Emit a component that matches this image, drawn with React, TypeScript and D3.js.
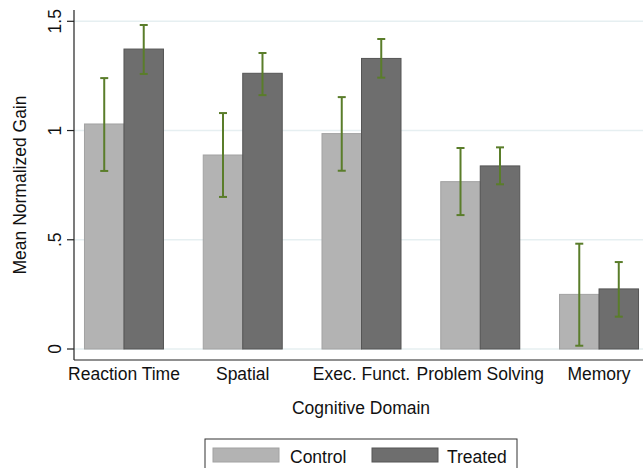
import React from "react";
import * as d3 from "d3";

const domains = ["Reaction Time", "Spatial", "Exec. Funct.", "Problem Solving", "Memory"];
const groups = ["Control", "Treated"];
const controlMean = [1.03, 0.888, 0.986, 0.766, 0.25];
const controlLow = [0.815, 0.696, 0.816, 0.613, 0.015];
const controlHigh = [1.24, 1.08, 1.153, 0.92, 0.482];
const treatedMean = [1.373, 1.262, 1.33, 0.838, 0.275];
const treatedLow = [1.259, 1.162, 1.242, 0.754, 0.148];
const treatedHigh = [1.483, 1.355, 1.419, 0.923, 0.398];
const yTicks = [0, 0.5, 1, 1.5];
const yTickLabels = ["0", ".5", "1", "1.5"];

const W = 643;
const H = 468;
const FONT = "'Liberation Sans', Arial, sans-serif";
const FS = 17.5;
const colors: Record<string, string> = { Control: "#b3b3b3", Treated: "#6e6e6e" };
const strokes: Record<string, string> = { Control: "#a2a2a2", Treated: "#555555" };
const errColor = "#5a7d2a";

export default function App() {
  const left = 74;
  const right = 643;
  const top = 10;
  const bottom = 360;

  const y = d3.scaleLinear().domain([0, 1.5]).range([349, 21.3]);
  const x = d3.scaleBand<string>().domain(domains).range([64.6, 658.4]).padding(0);
  const pairW = 79;
  const sub = d3
    .scaleBand<string>()
    .domain(groups)
    .range([x.bandwidth() / 2 - pairW / 2, x.bandwidth() / 2 + pairW / 2])
    .padding(0);

  const rows = domains.map((d, i) => ({
    domain: d,
    values: [
      { g: "Control", m: controlMean[i], lo: controlLow[i], hi: controlHigh[i] },
      { g: "Treated", m: treatedMean[i], lo: treatedLow[i], hi: treatedHigh[i] },
    ],
  }));

  const cap = 4;

  return (
    <svg
      width={W}
      height={H}
      style={{ position: "absolute", left: 0, top: 0, background: "#fff" }}
      fontFamily={FONT}
    >
      {/* grid */}
      {yTicks.map((t) => (
        <line key={"g" + t} x1={left} x2={right} y1={y(t)} y2={y(t)} stroke="#e6eff1" strokeWidth={1.5} />
      ))}

      {/* bars */}
      {rows.map((r) => (
        <g key={r.domain} transform={`translate(${x(r.domain)},0)`}>
          {r.values.map((v) => (
            <rect
              key={v.g}
              x={sub(v.g)!}
              y={y(v.m)}
              width={sub.bandwidth()}
              height={y(0) - y(v.m)}
              fill={colors[v.g]}
              stroke={strokes[v.g]}
              strokeWidth={1}
            />
          ))}
        </g>
      ))}

      {/* error bars */}
      {rows.map((r) => (
        <g key={"e" + r.domain} transform={`translate(${x(r.domain)},0)`}>
          {r.values.map((v) => {
            const cx = sub(v.g)! + sub.bandwidth() / 2;
            return (
              <g key={v.g} stroke={errColor} strokeWidth={2}>
                <line x1={cx} x2={cx} y1={y(v.hi)} y2={y(v.lo)} />
                <line x1={cx - cap} x2={cx + cap} y1={y(v.hi)} y2={y(v.hi)} />
                <line x1={cx - cap} x2={cx + cap} y1={y(v.lo)} y2={y(v.lo)} />
              </g>
            );
          })}
        </g>
      ))}

      {/* axes */}
      <line x1={left} x2={left} y1={top} y2={bottom} stroke="#222" strokeWidth={1.2} />
      <line x1={left} x2={right} y1={bottom} y2={bottom} stroke="#222" strokeWidth={1.2} />
      {yTicks.map((t, i) => (
        <g key={"t" + t}>
          <line x1={67} x2={left} y1={y(t)} y2={y(t)} stroke="#222" strokeWidth={1.2} />
          <text
            transform={`translate(61,${y(t)}) rotate(-90)`}
            textAnchor="middle"
            fontSize={FS}
            fill="#111"
          >
            {yTickLabels[i]}
          </text>
        </g>
      ))}
      {domains.map((d) => (
        <text
          key={"x" + d}
          x={x(d)! + x.bandwidth() / 2}
          y={380}
          textAnchor="middle"
          fontSize={FS}
          fill="#111"
        >
          {d}
        </text>
      ))}

      <text
        transform={`translate(25.5,${(top + bottom) / 2}) rotate(-90)`}
        textAnchor="middle"
        fontSize={FS}
        fill="#111"
      >
        Mean Normalized Gain
      </text>
      <text x={361} y={414} textAnchor="middle" fontSize={FS} fill="#111">
        Cognitive Domain
      </text>

      {/* legend */}
      <rect x={205} y={439} width={312} height={40} fill="#fff" stroke="#333" strokeWidth={1} />
      <rect x={213} y={448} width={66} height={14} fill={colors.Control} stroke={strokes.Control} />
      <text x={290} y={463} fontSize={FS} fill="#111">
        Control
      </text>
      <rect x={372} y={448} width={66} height={14} fill={colors.Treated} stroke={strokes.Treated} />
      <text x={447} y={463} fontSize={FS} fill="#111">
        Treated
      </text>
    </svg>
  );
}
